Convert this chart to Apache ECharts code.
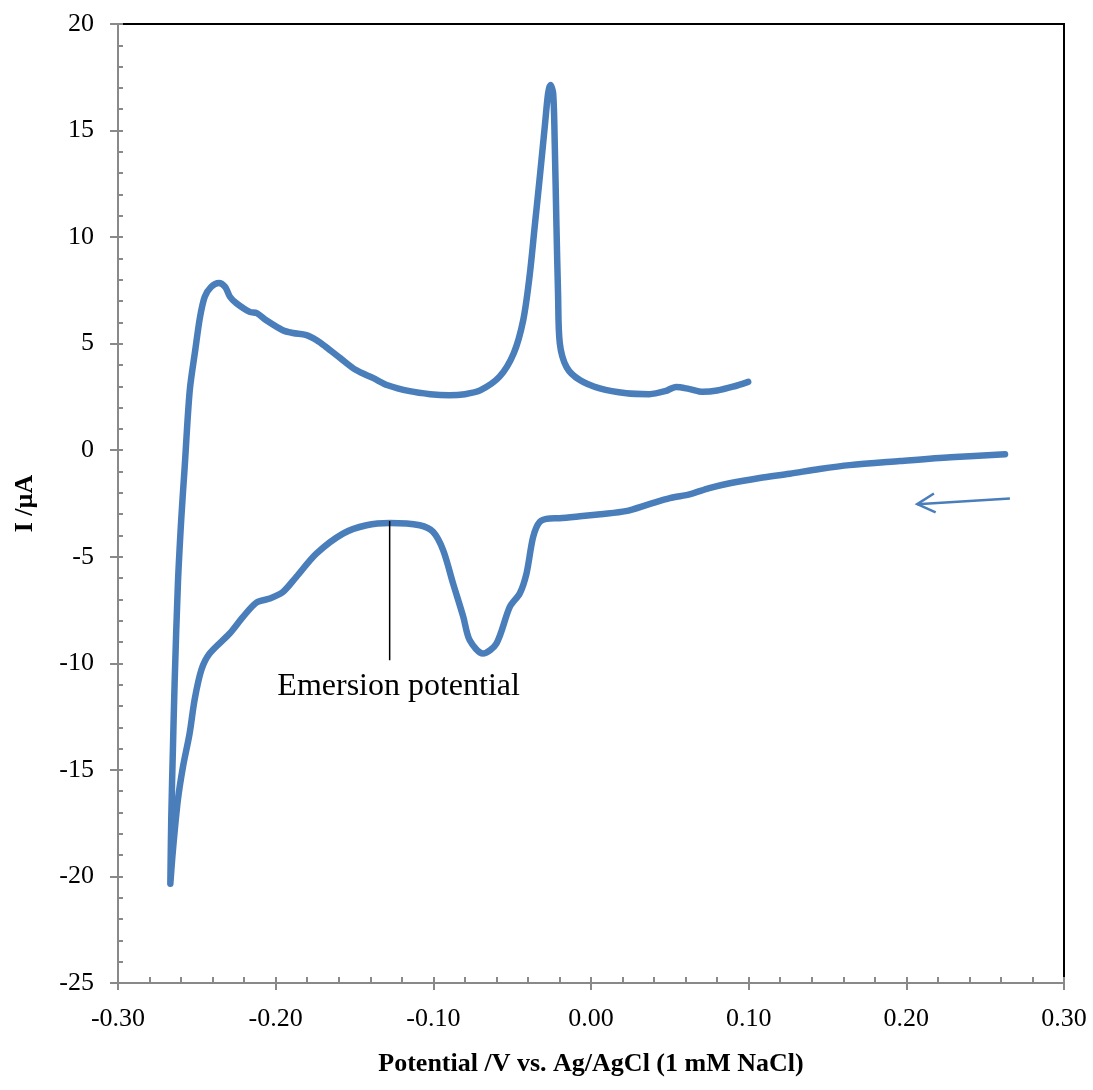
<!DOCTYPE html>
<html>
<head>
<meta charset="utf-8">
<title>Cyclic voltammogram</title>
<script src="https://cdn.jsdelivr.net/npm/echarts@6/dist/echarts.min.js"></script>
<style>
  html, body { margin: 0; padding: 0; background: #fff; }
  #chart { width: 1093px; height: 1090px; }
</style>
</head>
<body>
<div id="chart"></div>
<script>
// Cathodic sweep (right to left) followed by the anodic return sweep, in V and µA
const potential = [
  0.2626, 0.228, 0.196, 0.164, 0.145, 0.126, 0.107, 0.088, 0.075, 0.063,
  0.050, 0.037, 0.022, 0.006, -0.007, -0.020, -0.0261, -0.0325, -0.0367, -0.0409,
  -0.0452, -0.0515, -0.060, -0.0685, -0.0769, -0.081, -0.0875, -0.0938, -0.1002, -0.1086,
  -0.1277, -0.1424, -0.1573, -0.1742, -0.1869, -0.1954, -0.2038, -0.2122, -0.2207, -0.2292,
  -0.2419, -0.2471, -0.2514, -0.2546, -0.2588, -0.262, -0.2652, -0.2668,
  -0.2662, -0.2652, -0.2641, -0.262, -0.2598, -0.2577, -0.2545,
  -0.251, -0.248, -0.245, -0.241, -0.236, -0.232, -0.229, -0.225, -0.2165, -0.212,
  -0.206, -0.1955, -0.189, -0.1805, -0.174, -0.168, -0.159, -0.149, -0.138, -0.129,
  -0.115, -0.102, -0.090, -0.080, -0.070, -0.058, -0.049, -0.043, -0.039, -0.0357,
  -0.0325, -0.0293, -0.0272, -0.0257, -0.024, -0.023, -0.0219, -0.0209, -0.0198, -0.0155,
  -0.0071, 0.0056, 0.0225, 0.037, 0.047, 0.054, 0.062, 0.071, 0.080, 0.090, 0.0997
];
const current = [
  -0.19, -0.33, -0.51, -0.70, -0.88, -1.10, -1.30, -1.55, -1.78, -2.06,
  -2.25, -2.53, -2.86, -3.00, -3.10, -3.19, -3.20, -3.36, -4.07, -5.78,
  -6.72, -7.35, -9.07, -9.54, -8.92, -7.82, -6.25, -4.69, -3.83, -3.52,
  -3.41, -3.52, -3.91, -4.85, -5.94, -6.65, -6.96, -7.15, -7.82, -8.60,
  -9.54, -10.3, -11.7, -13.3, -14.86, -16.4, -18.8, -20.34,
  -17.2, -14.1, -10.95, -6.25, -3.13, -0.78, 2.8,
  4.7, 6.24, 7.2, 7.66, 7.85, 7.66, 7.2, 6.9, 6.49, 6.43,
  6.1, 5.63, 5.5, 5.4, 5.16, 4.84, 4.32, 3.76, 3.38, 3.05,
  2.77, 2.63, 2.58, 2.63, 2.82, 3.45, 4.55, 6.1, 8.14, 10.5,
  12.8, 15.2, 16.75, 17.14, 16.75, 14.4, 10.5, 7.36, 5.03, 3.9,
  3.29, 2.90, 2.67, 2.63, 2.77, 2.97, 2.88, 2.74, 2.80, 2.98, 3.21
];

// Annotations: emersion potential marker and scan-direction arrow
const emersionLineX = [-0.1277, -0.1277];
const emersionLineY = [-3.32, -9.86];
const emersionLabelAt = [-0.122, -11.1];
const emersionText = 'Emersion potential';
const arrowShaftX = [0.2657, 0.2069];
const arrowShaftY = [-2.26, -2.53];
const arrowHeadX = [0.2175, 0.2069, 0.2186];
const arrowHeadY = [-2.03, -2.53, -2.92];

const xTitle = 'Potential /V vs. Ag/AgCl (1 mM NaCl)';
const yTitle = 'I /µA';

const zip = (xs, ys) => xs.map((x, i) => [x, ys[i]]);

const FONT = '"Liberation Serif", "Times New Roman", serif';
const BLUE = '#4a7ebb';
const AXIS_GRAY = '#898989';

const chart = echarts.init(document.getElementById('chart'), null, { renderer: 'canvas' });

const fmtX = v => {
  const s = v.toFixed(2);
  return s === '-0.00' ? '0.00' : s;
};

chart.setOption({
  animation: false,
  backgroundColor: '#fff',
  grid: {
    left: 118, right: 29, top: 24, bottom: 107,
    show: true, borderColor: '#000', borderWidth: 2, backgroundColor: 'transparent'
  },
  xAxis: [
    {
      type: 'value', min: -0.3, max: 0.3, interval: 0.1, position: 'bottom',
      axisLine: { show: true, onZero: false, lineStyle: { color: AXIS_GRAY, width: 2 } },
      axisTick: { show: true, inside: false, length: 7, lineStyle: { color: AXIS_GRAY, width: 2 } },
      axisLabel: { formatter: fmtX, fontFamily: FONT, fontSize: 26, color: '#000', margin: 23 },
      splitLine: { show: false },
      name: xTitle, nameLocation: 'middle', nameGap: 68,
      nameTextStyle: { fontFamily: FONT, fontSize: 26, fontWeight: 'bold', color: '#000' }
    },
    {
      type: 'value', min: -0.3, max: 0.3, interval: 0.1, position: 'bottom',
      axisLine: { show: false, onZero: false },
      axisTick: { show: true, inside: true, length: 6, lineStyle: { color: AXIS_GRAY, width: 2 } },
      minorTick: { show: true, splitNumber: 5, length: 6, lineStyle: { color: AXIS_GRAY, width: 2 } },
      axisLabel: { show: false },
      splitLine: { show: false }
    }
  ],
  yAxis: [
    {
      type: 'value', min: -25, max: 20, interval: 5, position: 'left',
      axisLine: { show: true, onZero: false, lineStyle: { color: AXIS_GRAY, width: 2 } },
      axisTick: { show: true, inside: false, length: 8, lineStyle: { color: AXIS_GRAY, width: 2 } },
      axisLabel: { fontFamily: FONT, fontSize: 26, color: '#000', margin: 24 },
      splitLine: { show: false },
      name: yTitle, nameLocation: 'middle', nameGap: 80, nameRotate: 90,
      nameTextStyle: { fontFamily: FONT, fontSize: 26, fontWeight: 'bold', color: '#000' }
    },
    {
      type: 'value', min: -25, max: 20, interval: 5, position: 'left',
      axisLine: { show: false, onZero: false },
      axisTick: { show: true, inside: true, length: 5, lineStyle: { color: AXIS_GRAY, width: 2 } },
      minorTick: { show: true, splitNumber: 5, length: 5, lineStyle: { color: AXIS_GRAY, width: 2 } },
      axisLabel: { show: false },
      splitLine: { show: false }
    }
  ],
  series: [
    {
      name: 'CV', type: 'line', xAxisIndex: 0, yAxisIndex: 0,
      data: zip(potential, current),
      showSymbol: false, smooth: 0.3,
      lineStyle: { color: BLUE, width: 6.5, cap: 'round', join: 'round' },
      z: 3
    },
    {
      name: 'emersion', type: 'line', xAxisIndex: 0, yAxisIndex: 0,
      data: zip(emersionLineX, emersionLineY),
      showSymbol: false, silent: true,
      lineStyle: { color: '#000', width: 1.5 },
      z: 4
    },
    {
      name: 'arrow-shaft', type: 'line', xAxisIndex: 0, yAxisIndex: 0,
      data: zip(arrowShaftX, arrowShaftY),
      showSymbol: false, silent: true,
      lineStyle: { color: BLUE, width: 2.5 }
    },
    {
      name: 'arrow-head', type: 'line', xAxisIndex: 0, yAxisIndex: 0,
      data: zip(arrowHeadX, arrowHeadY),
      showSymbol: false, silent: true,
      lineStyle: { color: BLUE, width: 2.5, join: 'miter' }
    }
  ]
});

// Place the annotation text at its data position
const labelPx = chart.convertToPixel({ gridIndex: 0 }, emersionLabelAt);
chart.setOption({
  graphic: [{
    type: 'text', silent: true, z: 10,
    x: labelPx[0], y: labelPx[1],
    style: {
      text: emersionText, fill: '#000',
      font: '32px "Liberation Serif", "Times New Roman", serif',
      align: 'center', verticalAlign: 'middle'
    }
  }]
});
</script>
</body>
</html>
